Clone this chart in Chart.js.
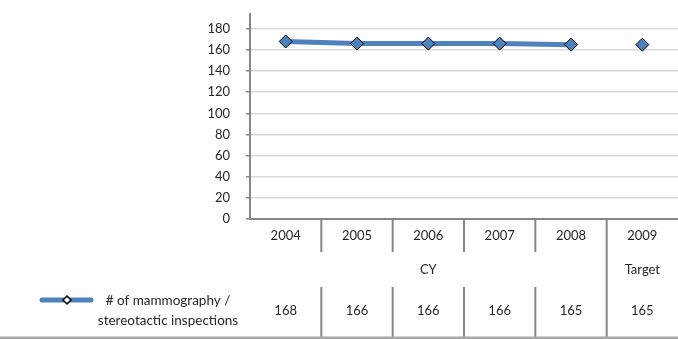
<!DOCTYPE html>
<html lang="en">
<head>
  <meta charset="UTF-8">
  <title>Mammography / stereotactic inspections</title>
  <script src="https://cdn.jsdelivr.net/npm/chart.js"></script>
  <style>
    html, body { margin: 0; padding: 0; background: #fff; }
    .wrap { width: 678px; height: 339px; }
  </style>
</head>
<body>

<div class="wrap"><canvas id="chart" width="678" height="339"></canvas></div>

<script>
const years = ["2004","2005","2006","2007","2008","2009"];
const groupLabels = ["CY","CY","CY","CY","CY","Target"];
const cyValues = [168,166,166,166,165];
const targetValues = [165];
const seriesName = ["# of mammography /", "stereotactic inspections"];
const yTicks = [0,20,40,60,80,100,120,140,160,180];

const blue = '#4f81bd';
const axisGray = '#868686';
const textColor = '#262626';

const cyData = cyValues.concat(years.slice(cyValues.length).map(() => null));
const targetData = years.slice(targetValues.length).map(() => null).concat(targetValues);
const tableValues = cyValues.concat(targetValues);

Chart.defaults.font.family = 'Lato, sans-serif';
Chart.defaults.font.size = 13;
Chart.defaults.color = textColor;

// draws the data table below the plot (Excel style)
const dataTable = {
  id: 'dataTable',
  afterDraw(chart) {
    const ctx = chart.ctx;
    const x = chart.scales.x;
    const area = chart.chartArea;
    const centers = years.map((y, i) => x.getPixelForValue(i));
    const bounds = [];
    for (let i = 1; i < years.length; i++) bounds.push((centers[i - 1] + centers[i]) / 2);

    ctx.save();
    ctx.strokeStyle = axisGray;
    ctx.lineWidth = 2;
    bounds.forEach((bx, i) => {
      const split = groupLabels[i] !== groupLabels[i + 1];
      ctx.beginPath();
      if (split) {
        ctx.moveTo(bx, area.bottom); ctx.lineTo(bx, 337);
      } else {
        ctx.moveTo(bx, area.bottom); ctx.lineTo(bx, 252);
        ctx.moveTo(bx, 287); ctx.lineTo(bx, 337);
      }
      ctx.stroke();
    });

    // bottom border
    ctx.strokeStyle = '#a6a6a6';
    ctx.lineWidth = 3;
    ctx.beginPath();
    ctx.moveTo(0, 338); ctx.lineTo(678, 338);
    ctx.stroke();

    ctx.fillStyle = textColor;
    ctx.font = '13px Lato, sans-serif';
    ctx.textAlign = 'center';
    ctx.textBaseline = 'middle';
    years.forEach((y, i) => ctx.fillText(y, centers[i], 236));
    tableValues.forEach((v, i) => ctx.fillText(String(v), centers[i], 311));

    // group header row
    let start = 0;
    for (let i = 1; i <= groupLabels.length; i++) {
      if (i === groupLabels.length || groupLabels[i] !== groupLabels[start]) {
        const cx = (centers[start] + centers[i - 1]) / 2;
        ctx.fillText(groupLabels[start], cx, 270);
        start = i;
      }
    }

    // legend key
    ctx.strokeStyle = blue;
    ctx.lineWidth = 5;
    ctx.lineCap = 'round';
    ctx.beginPath();
    ctx.moveTo(42, 300); ctx.lineTo(91, 300);
    ctx.stroke();
    ctx.lineCap = 'butt';
    ctx.fillStyle = '#ffffff';
    ctx.strokeStyle = '#000';
    ctx.lineWidth = 1.5;
    ctx.beginPath();
    ctx.moveTo(67, 296); ctx.lineTo(71, 300); ctx.lineTo(67, 304); ctx.lineTo(63, 300);
    ctx.closePath();
    ctx.fill(); ctx.stroke();

    ctx.fillStyle = textColor;
    ctx.font = '13.5px Lato, sans-serif';
    ctx.fillText(seriesName[0], 168, 301);
    ctx.fillText(seriesName[1], 168, 321);
    ctx.restore();
  }
};

new Chart(document.getElementById('chart'), {
  type: 'line',
  data: {
    labels: years,
    datasets: [
      { label: 'CY', data: cyData, borderColor: blue, borderWidth: 5, backgroundColor: blue,
        pointStyle: 'rectRot', pointRadius: 6.5, pointBackgroundColor: blue,
        pointBorderColor: '#000', pointBorderWidth: 1, tension: 0, spanGaps: false },
      { label: 'Target', data: targetData, showLine: false, borderColor: blue, backgroundColor: blue,
        pointStyle: 'rectRot', pointRadius: 6.5, pointBackgroundColor: blue,
        pointBorderColor: '#000', pointBorderWidth: 1 }
    ]
  },
  options: {
    responsive: false,
    animation: false,
    layout: { autoPadding: false, padding: { top: 14, right: 0, left: 0, bottom: 0 } },
    plugins: { legend: { display: false }, tooltip: { enabled: false } },
    scales: {
      x: {
        offset: true,
        ticks: { display: false },
        grid: { display: false },
        border: { display: true, color: axisGray, width: 2 },
        afterFit: s => { s.height = 120; s.paddingLeft = 0; s.paddingRight = 0; }
      },
      y: {
        min: 0,
        max: 194,
        afterBuildTicks: s => { s.ticks = yTicks.map(v => ({ value: v })); },
        ticks: { padding: 16, color: textColor },
        grid: { color: '#d9d9d9', lineWidth: 1.5, tickLength: 4, tickColor: axisGray },
        border: { display: true, color: axisGray, width: 2 },
        afterFit: s => { s.width = 250; s.paddingTop = 0; s.paddingBottom = 0; }
      }
    }
  },
  plugins: [dataTable]
});
</script>

</body>
</html>
